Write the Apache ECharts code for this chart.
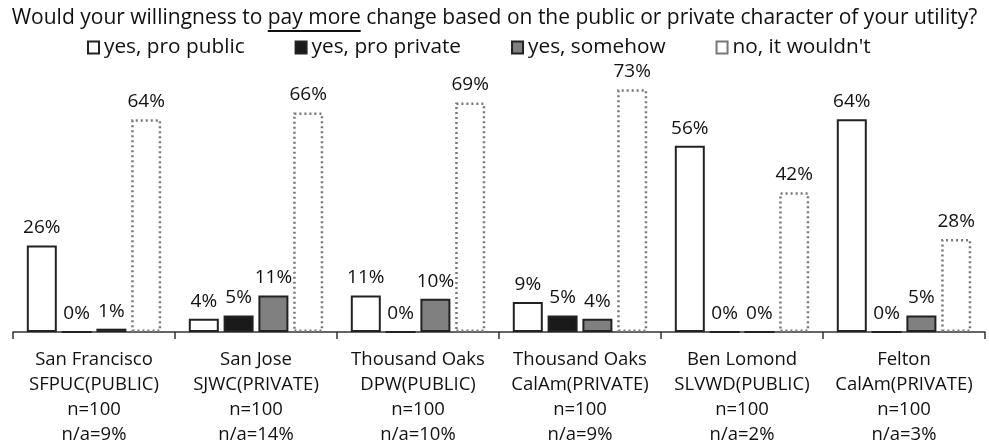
<!DOCTYPE html>
<html><head><meta charset="utf-8">
<script src="https://cdn.jsdelivr.net/npm/echarts@6/dist/echarts.min.js"></script>
<style>html,body{margin:0;padding:0;background:#fff}#c{width:989px;height:448px}</style>
</head><body><div id="c"></div>
<script>
const categories = [
  ['San Francisco','SFPUC(PUBLIC)','n=100','n/a=9%'],
  ['San Jose','SJWC(PRIVATE)','n=100','n/a=14%'],
  ['Thousand Oaks','DPW(PUBLIC)','n=100','n/a=10%'],
  ['Thousand Oaks','CalAm(PRIVATE)','n=100','n/a=9%'],
  ['Ben Lomond','SLVWD(PUBLIC)','n=100','n/a=2%'],
  ['Felton','CalAm(PRIVATE)','n=100','n/a=3%']
];
const seriesNames = ['yes, pro public','yes, pro private','yes, somehow',"no, it wouldn't"];
const proPublic  = [26, 4, 11, 9, 56, 64];
const proPrivate = [0, 5, 0, 5, 0, 0];
const somehow    = [1, 11, 10, 4, 0, 5];
const wouldnt    = [64, 66, 69, 73, 42, 28];
const titlePre = 'Would your willingness to ';
const titleU = 'pay more';
const titlePost = ' change based on the public or private character of your utility?';

const FONT = '"Open Sans", sans-serif';
const TFS = 21;
const TXT = '#111';
const chart = echarts.init(document.getElementById('c'));

// underline position
const cv = document.createElement('canvas').getContext('2d');
cv.font = TFS + 'px "Open Sans"';
const full = cv.measureText(titlePre + titleU + titlePost).width;
const wPre = cv.measureText(titlePre).width;
const wU = cv.measureText(titleU).width;
const x0 = (989 - full) / 2;

const label = {show:true, position:'top', distance:8, formatter:'{c}%', color:TXT, fontSize:19, fontFamily:FONT};
function mk(name, data, style){
  return {name, type:'bar', data, barWidth:30, barGap:'16%', label, itemStyle:style, emphasis:{disabled:true}};
}
chart.setOption({
  animation:false,
  title:{text:titlePre+titleU+titlePost, left:'center', top:8, padding:0,
    textStyle:{fontFamily:FONT, fontSize:TFS, fontWeight:'normal', color:TXT}},
  graphic:[{type:'line', shape:{x1:x0+wPre, y1:31, x2:x0+wPre+wU, y2:31}, style:{stroke:'#111', lineWidth:1.8}}],
  legend:{top:37, left:87, itemGap:50, itemWidth:11, itemHeight:12, icon:'rect', padding:0,
    textStyle:{fontFamily:FONT, fontSize:20.8, color:TXT}, data:seriesNames},
  grid:{left:13, right:4, top:66, bottom:116},
  xAxis:{type:'category', data:categories.map(c=>c.join('\n')),
    axisLine:{lineStyle:{color:'#333', width:1.5}},
    axisTick:{show:true, length:7, lineStyle:{color:'#333', width:1.5}},
    axisLabel:{interval:0, margin:15, lineHeight:25, fontSize:18.5, fontFamily:FONT, color:TXT}},
  yAxis:{type:'value', min:0, max:80, show:false, splitLine:{show:false}},
  series:[
    mk(seriesNames[0], proPublic, {color:'#fff', borderColor:'#222', borderWidth:2}),
    mk(seriesNames[1], proPrivate, {color:'#1a1a1a', borderColor:'#222', borderWidth:2}),
    mk(seriesNames[2], somehow, {color:'#808080', borderColor:'#222', borderWidth:2}),
    mk(seriesNames[3], wouldnt, {color:'rgba(255,255,255,0)', borderColor:'#777', borderWidth:2.5, borderType:[2,3]})
  ]
});
</script></body></html>
